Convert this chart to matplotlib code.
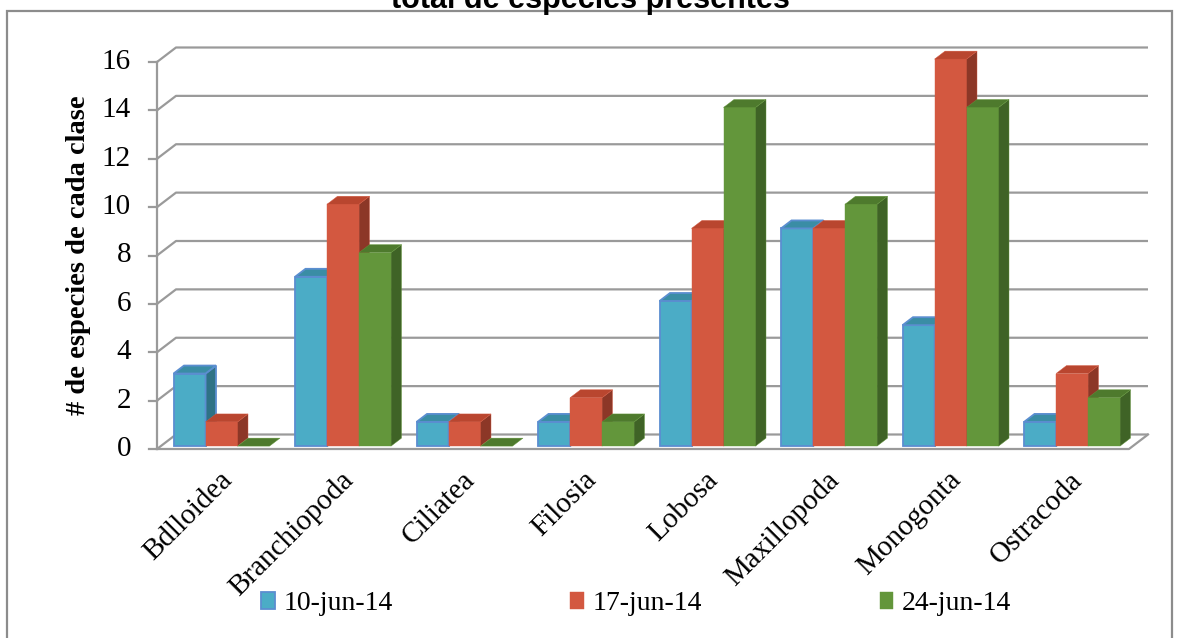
import numpy as np
import matplotlib
matplotlib.use('Agg')
import matplotlib.pyplot as plt
from matplotlib.patches import Polygon, Rectangle

plt.rcParams['font.family'] = ['Liberation Serif', 'DejaVu Serif']

categories = ['Bdlloidea', 'Branchiopoda', 'Ciliatea', 'Filosia',
              'Lobosa', 'Maxillopoda', 'Monogonta', 'Ostracoda']
series_names = ['10-jun-14', '17-jun-14', '24-jun-14']
jun10 = [3, 7, 1, 1, 6, 9, 5, 1]
jun17 = [1, 10, 1, 2, 9, 9, 16, 3]
jun24 = [0, 8, 0, 1, 14, 10, 14, 2]
y_ticks = [0, 2, 4, 6, 8, 10, 12, 14, 16]

# front / side / top shades per series, plus outline
faces = ['#4BACC6', '#D35840', '#63963B']
sides = ['#2E7285', '#8C3727', '#3F6326']
tops = ['#3A8DA5', '#B9462F', '#4E7A2D']
edges = ['#5B8ED0', '#D35840', '#63963B']
edge_w = [1.3, 0.3, 0.3]

W, H = 1179, 638
fig = plt.figure(figsize=(W / 100, H / 100), dpi=100)
# plot area (front plane) in pixels
px_l, px_r, px_t, px_b = 157, 1129, 62, 449
ax = fig.add_axes([px_l / W, 1 - px_b / H, (px_r - px_l) / W, (px_b - px_t) / H])
ax.set_xlim(-0.5, len(categories) - 0.5)
ax.set_ylim(0, 16)
ax.axis('off')

ppx = (px_r - px_l) / len(categories)   # pixels per category
ppy = (px_b - px_t) / 16.0              # pixels per unit
ddx, ddy = 19 / ppx, 14.5 / ppy         # depth of the walls

grid_c = '#9A9A9A'
x_lo, x_hi = -0.5, len(categories) - 0.5

# back wall grid and side wall diagonals
for v in y_ticks:
    ax.plot([x_lo, x_lo + ddx, x_hi + ddx], [v, v + ddy, v + ddy],
            color=grid_c, lw=1.6, clip_on=False, solid_capstyle='butt', zorder=1)
    ax.plot([x_lo - 8 / ppx, x_lo], [v, v], color=grid_c, lw=1.6, clip_on=False, zorder=1)
    ax.text(x_lo - 26 / ppx, v, str(v), ha='right', va='center', fontsize=21)

# floor front edge and right edge, left axis
ax.plot([x_lo, x_hi, x_hi + ddx], [0, 0, ddy], color=grid_c, lw=1.6, clip_on=False, zorder=1)
ax.plot([x_lo, x_lo], [0, 16], color=grid_c, lw=1.6, clip_on=False, zorder=1)

# 3D columns
bw = 32 / ppx
f0, f1 = 0.2, 0.75
data = [jun10, jun17, jun24]
for i in range(len(categories)):
    for s, vals in enumerate(data):
        v = vals[i]
        x0 = i - 1.5 * bw + s * bw + f0 * ddx
        y0 = f0 * ddy
        x1 = x0 + bw
        dx, dy = (f1 - f0) * ddx, (f1 - f0) * ddy
        top = y0 + v
        kw = dict(edgecolor=edges[s], lw=edge_w[s], joinstyle='miter', clip_on=False, zorder=3)
        if v > 0:
            ax.add_patch(Polygon([[x0, y0], [x1, y0], [x1, top], [x0, top]], closed=True,
                                 facecolor=faces[s], **kw))
            ax.add_patch(Polygon([[x1, y0], [x1 + dx, y0 + dy], [x1 + dx, top + dy], [x1, top]],
                                 closed=True, facecolor=sides[s], **kw))
        ax.add_patch(Polygon([[x0, top], [x1, top], [x1 + dx, top + dy], [x0 + dx, top + dy]],
                             closed=True, facecolor=tops[s], **kw))

# category labels
for i, name in enumerate(categories):
    ax.text(i + 1 / ppx, -18 / ppy, name, rotation=45, rotation_mode='anchor',
            ha='right', va='top', fontsize=21)

ax.text(x_lo - 78 / ppx, 8.0, '# de especies de cada clase', rotation=90,
        ha='center', va='center', fontsize=20.5, fontweight='bold')

handles = [Rectangle((0, 0), 1, 1, facecolor=faces[s], edgecolor=edges[s], lw=edge_w[s])
           for s in range(3)]
fig.legend(handles, series_names, loc='center', ncol=3, frameon=False, fontsize=20,
           bbox_to_anchor=(636 / W, 1 - 604 / H), handlelength=0.5, handleheight=0.55,
           handletextpad=0.3, columnspacing=6.4)

# chart border and clipped title
fig.patches.append(Rectangle((7 / W, -0.05), (1172 - 7) / W, 1.05 - 11 / H,
                             transform=fig.transFigure, fill=False,
                             edgecolor='#8C8C8C', lw=1.6))
fig.text(590 / W, 1 - 8 / H, 'total de especies presentes', ha='center', va='baseline',
         fontsize=22, fontweight='bold', family=['Liberation Sans', 'DejaVu Sans'])

fig.savefig('out.png', dpi=100, facecolor='white')
